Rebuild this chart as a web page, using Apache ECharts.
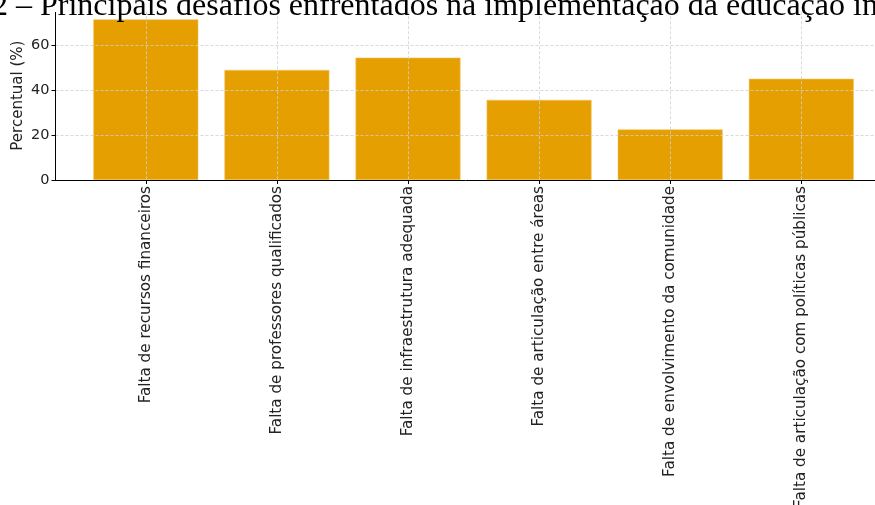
<!DOCTYPE html>
<html>
<head>
<meta charset="utf-8">
<script src="https://cdn.jsdelivr.net/npm/echarts@6/dist/echarts.min.js"></script>
<style>html,body{margin:0;padding:0;background:#fff;}#c{width:875px;height:505px;}</style>
</head>
<body>
<div id="c"></div>
<script>
const titleText = "2 – Principais desafios enfrentados na implementação da educação integral";
const categories = [
  "Falta de recursos financeiros",
  "Falta de professores qualificados",
  "Falta de infraestrutura adequada",
  "Falta de articulação entre áreas",
  "Falta de envolvimento da comunidade",
  "Falta de articulação com políticas públicas"
];
const values = [71.4, 48.9, 54.4, 35.6, 22.5, 45.0];
const yTicks = [0, 20, 40, 60];
const yLabel = "Percentual (%)";

const chart = echarts.init(document.getElementById('c'), null, {renderer: 'canvas'});
const gridColor = '#cfcfcf';
const TOP = 11.25, H = 168.75;
chart.setOption({
  animation: false,
  backgroundColor: '#fff',
  title: {
    text: titleText,
    left: -13,
    top: -14,
    textStyle: {fontFamily: 'Liberation Serif', fontSize: 32, fontWeight: 'normal', color: '#000'}
  },
  graphic: [{
    type: 'rect', z: 5, silent: true,
    shape: {x: 0, y: 0, width: 875, height: 12},
    style: {fill: '#fff'}
  }],
  grid: [
    {left: 55.5, top: TOP, width: 836.3, height: H, containLabel: false, outerBoundsMode: 'none'},
    {left: 145.8, top: TOP, width: 655.5, height: H, containLabel: false, outerBoundsMode: 'none'}
  ],
  xAxis: [{
    type: 'value', gridIndex: 0, min: 0, max: 1, z: 3,
    axisLine: {show: true, onZero: false, lineStyle: {color: '#000', width: 1}},
    axisTick: {show: false}, axisLabel: {show: false}, splitLine: {show: false}
  }, {
    type: 'category', gridIndex: 1, data: categories, boundaryGap: false, z: 3,
    axisLine: {show: false},
    axisTick: {show: true, length: 4, lineStyle: {color: '#000'}},
    axisLabel: {rotate: 90, interval: 0, fontFamily: 'DejaVu Sans', fontSize: 15.2, color: '#222', margin: 6},
    splitLine: {show: true, interval: 0, lineStyle: {color: gridColor, type: [3, 2], width: 0.8}}
  }],
  yAxis: [{
    type: 'value', gridIndex: 0, min: 0, max: 75, interval: 20, z: 3,
    name: yLabel, nameLocation: 'middle', nameGap: 30, nameMoveOverlap: false,
    nameTextStyle: {fontFamily: 'DejaVu Sans', fontSize: 15, color: '#222'},
    axisLine: {show: true, onZero: false, lineStyle: {color: '#000', width: 1}},
    axisTick: {show: true, length: 4, lineStyle: {color: '#000'}},
    axisLabel: {
      fontFamily: 'DejaVu Sans', fontSize: 14.5, color: '#222', margin: 6,
      showMaxLabel: false,
      formatter: v => yTicks.indexOf(v) >= 0 ? String(v) : ''
    },
    splitLine: {show: true, lineStyle: {color: gridColor, type: [3, 2], width: 0.8}}
  }, {
    type: 'value', gridIndex: 1, min: 0, max: 75, show: false
  }],
  series: [{
    type: 'bar', z: 2, xAxisIndex: 1, yAxisIndex: 1, clip: false,
    barWidth: 105,
    data: values,
    itemStyle: {color: '#E69F00', borderColor: '#f2c56a', borderWidth: 0.6}
  }]
});
</script>
</body>
</html>
